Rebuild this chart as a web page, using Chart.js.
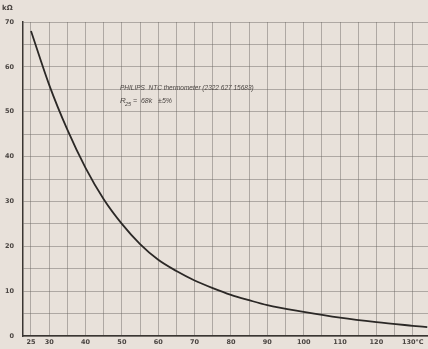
<!DOCTYPE html>
<html>
<head>
<meta charset="utf-8">
<script src="https://cdn.jsdelivr.net/npm/chart.js@4.4.0/dist/chart.umd.min.js"></script>
<style>
    html, body { margin: 0; padding: 0; background: #e8e1da; }
    #wrap { width: 428px; height: 349px; position: relative; }
</style>
</head>
<body>
<div id="wrap"><canvas id="ntcChart"></canvas></div>
<script>
// temperature in °C and resistance in kΩ
const temps = [25, 30, 35, 40, 45, 50, 55, 60, 65, 70, 75, 80, 85, 90, 100, 110, 120, 130, 134];
const resist = [68, 56, 46, 37.5, 30.5, 25, 20.5, 17, 14.5, 12.4, 10.7, 9.2, 8, 6.9, 5.4, 4.1, 3.1, 2.3, 2.0];

const xTicks = [25, 30, 35, 40, 45, 50, 55, 60, 65, 70, 75, 80, 85, 90, 95, 100, 105, 110, 115, 120, 125, 130];
const xLabels = [25, 30, 40, 50, 60, 70, 80, 90, 100, 110, 120, 130];
const yLabels = [0, 10, 20, 30, 40, 50, 60, 70];

const gridColor = 'rgba(105, 100, 95, 0.45)';
const inkColor = '#3a3633';

const notesPlugin = {
    id: 'notes',
    afterDraw(chart) {
        const ctx = chart.ctx;
        ctx.save();
        ctx.fillStyle = '#4a4542';
        ctx.font = 'bold 7px "DejaVu Sans"';
        ctx.textBaseline = 'middle';
        ctx.fillText('kΩ', 2, 8);

        ctx.font = 'italic 6.5px "Liberation Sans"';
        ctx.fillText('PHILIPS  NTC thermometer (2322 627 15683)', 120, 88);
        ctx.font = 'italic 8px "Liberation Sans"';
        ctx.fillText('R', 120, 101);
        ctx.font = 'italic 5.5px "Liberation Sans"';
        ctx.fillText('25', 125, 104);
        ctx.font = 'italic 7px "Liberation Sans"';
        ctx.fillText('=  68k   ±5%', 133, 101);
        ctx.restore();
    }
};

const points = temps.map((t, i) => ({ x: t, y: resist[i] }));

new Chart(document.getElementById('ntcChart'), {
    type: 'scatter',
    data: {
        datasets: [{
            data: points,
            showLine: true,
            borderColor: '#2b2826',
            borderWidth: 1.8,
            pointRadius: 0,
            cubicInterpolationMode: 'monotone',
            fill: false
        }]
    },
    options: {
        responsive: true,
        maintainAspectRatio: false,
        animation: false,
        layout: { padding: { top: 22, right: 0, bottom: 0, left: 0 } },
        plugins: {
            legend: { display: false },
            tooltip: { enabled: false }
        },
        scales: {
            x: {
                type: 'linear',
                min: 22.8,
                max: 134.2,
                afterBuildTicks: function(scale) {
                    scale.ticks = xTicks.map(v => ({ value: v }));
                },
                afterFit: function(scale) { scale.height = 11; },
                grid: {
                    color: gridColor,
                    lineWidth: 1,
                    drawTicks: false
                },
                border: { color: inkColor, width: 1.5, dash: [] },
                ticks: {
                    autoSkip: false,
                    maxRotation: 0,
                    padding: 2,
                    color: '#4a4542',
                    font: { size: 6.5, family: '"DejaVu Sans"', weight: 'bold' },
                    callback: function(value) {
                        if (!xLabels.includes(value)) return '';
                        return value === 130 ? '130°C' : value;
                    }
                }
            },
            y: {
                min: 0,
                max: 70,
                afterFit: function(scale) { scale.width = 23; },
                grid: {
                    color: gridColor,
                    lineWidth: 1,
                    drawTicks: false
                },
                border: { color: inkColor, width: 1.5 },
                ticks: {
                    stepSize: 5,
                    padding: 9,
                    color: '#4a4542',
                    font: { size: 6.5, family: '"DejaVu Sans"', weight: 'bold' },
                    callback: function(value) {
                        return yLabels.includes(value) ? value : '';
                    }
                }
            }
        }
    },
    plugins: [notesPlugin]
});
</script>
</body>
</html>
